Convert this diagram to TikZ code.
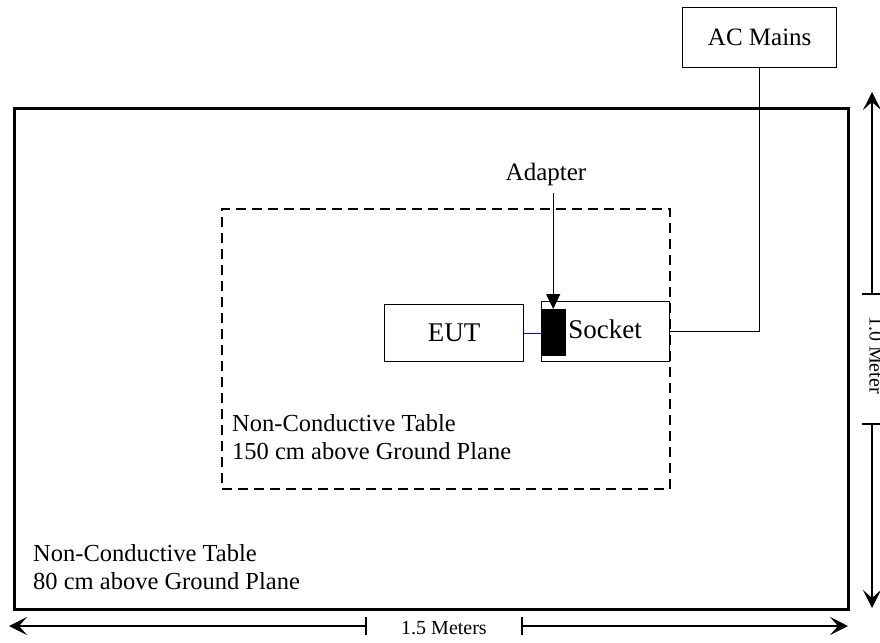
\documentclass[tikz,border=0pt]{standalone}
\usepackage{fontspec}
\setmainfont{Liberation Serif}
\usetikzlibrary{arrows.meta}
\tikzset{
  boxn/.style={draw, line width=1.4pt, inner sep=0pt, anchor=north west},
  lbl/.style={inner sep=0pt, align=left, anchor=north west, font=\fontsize{24.5}{28}\selectfont},
  dimline/.style={line width=1.4pt, -{Stealth[length=18pt,width=18pt,inset=8pt]}},
  tickline/.style={line width=1.4pt},
  wire/.style={line width=1.3pt}
}
\begin{document}
\begin{tikzpicture}[x=1pt,y=-1pt]
\useasboundingbox (0,0) rectangle (880,642);
% outer table
\node[boxn, line width=2.6pt, minimum width=834pt, minimum height=501pt] (outer) at (13,107) {};
% inner dashed table
\node[boxn, line width=2pt, dash pattern=on 10pt off 6pt, minimum width=448pt, minimum height=280pt] (inner) at (221,208) {};
% EUT
\node[boxn, minimum width=139pt, minimum height=57pt] (eut) at (384,304) {};
\node[font=\fontsize{27}{30}\selectfont, inner sep=0pt] (euttxt) at (eut.center) {EUT};
% Socket
\node[boxn, minimum width=128pt, minimum height=60pt] (socket) at (541,301) {};
\node[font=\fontsize{27}{30}\selectfont, inner sep=0pt] (sockettxt) at (605,329) {Socket};
% adapter block
\node[draw, fill=black, inner sep=0pt, anchor=north west, minimum width=24pt, minimum height=46pt] (blk) at (541,309) {};
% AC Mains
\node[boxn, minimum width=154pt, minimum height=60pt] (ac) at (682,7) {};
\node[font=\fontsize{25}{28}\selectfont, inner sep=0pt] (actxt) at (ac.center) {AC Mains};
% Adapter label
\node[font=\fontsize{25}{28}\selectfont, inner sep=0pt] (adlbl) at (546,174) {Adapter};
% connectors
\draw[wire, blue] (eut.east) -- (eut.east -| blk.west);
\draw[wire] (ac.south) |- (socket.east);
\draw[wire, -{Triangle[length=15pt,width=14pt]}] (blk.north |- 0,193) -- (blk.north);
% texts
\node[lbl] (t1) at (232,414) {Non-Conductive Table\\150 cm above Ground Plane};
\node[lbl] (t2) at (33,544) {Non-Conductive Table\\80 cm above Ground Plane};
% horizontal dimension
\coordinate (hl) at (9,626);
\coordinate (hr) at (848,626);
\coordinate (h1) at (366,626);
\coordinate (h2) at (522,626);
\draw[dimline] (h1) -- (hl);
\draw[dimline] (h2) -- (hr);
\draw[tickline] ([yshift=-9pt]h1) -- ([yshift=9pt]h1);
\draw[tickline] ([yshift=-9pt]h2) -- ([yshift=9pt]h2);
\node[font=\fontsize{20}{24}\selectfont, inner sep=0pt] (hlbl) at (444,628) {1.5 Meters};
% vertical dimension
\coordinate (vt) at (872,92);
\coordinate (vb) at (872,608);
\coordinate (v1) at (872,294);
\coordinate (v2) at (872,424);
\draw[dimline] (v1) -- (vt);
\draw[dimline] (v2) -- (vb);
\draw[tickline] ([xshift=-10pt]v1) -- ([xshift=10pt]v1);
\draw[tickline] ([xshift=-10pt]v2) -- ([xshift=10pt]v2);
\node[font=\fontsize{20}{24}\selectfont, inner sep=0pt, rotate=-90] (vlbl) at (876,355) {1.0 Meter};
\end{tikzpicture}
\end{document}
